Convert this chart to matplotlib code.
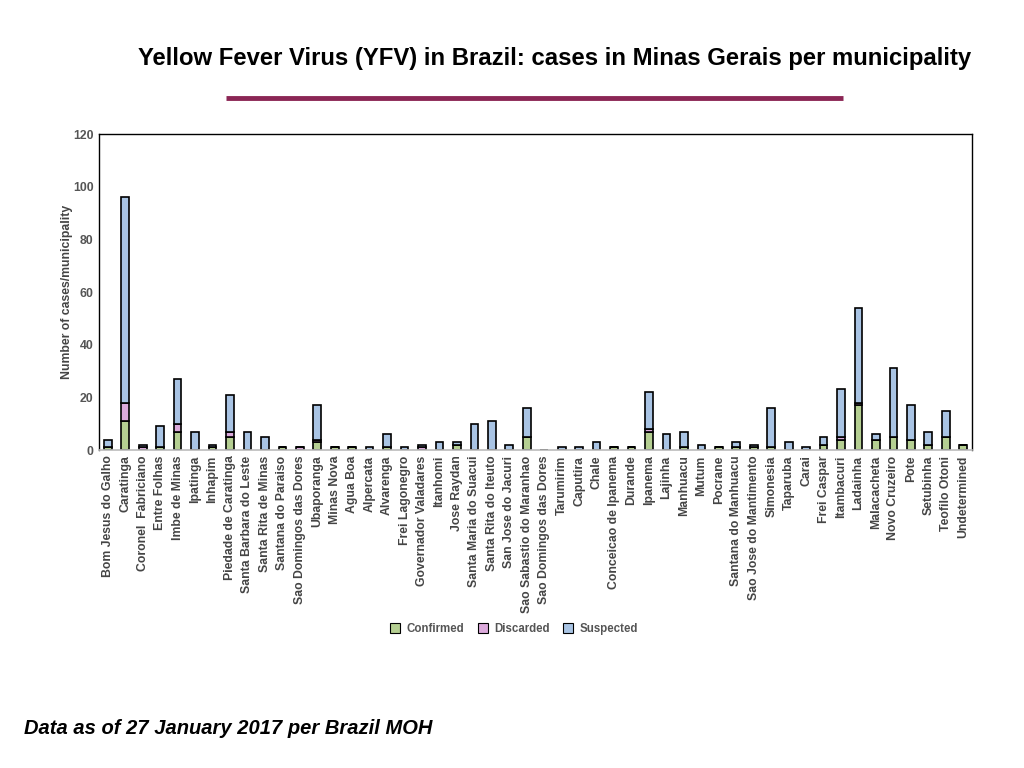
import numpy as np
import matplotlib
matplotlib.use('Agg')
import matplotlib.pyplot as plt
from matplotlib.lines import Line2D

plt.rcParams['font.family'] = ['Liberation Sans', 'DejaVu Sans']

municipalities = [
    'Bom Jesus do Galho', 'Caratinga', 'Coronel  Fabriciano', 'Entre Folhas', 'Imbe de Minas',
    'Ipatinga', 'Inhapim', 'Piedade de Caratinga', 'Santa Barbara do Leste', 'Santa Rita de Minas',
    'Santana do Paraiso', 'Sao Domingos das Dores', 'Ubaporanga', 'Minas Nova', 'Agua Boa',
    'Alpercata', 'Alvarenga', 'Frei Lagonegro', 'Governador Valadares', 'Itanhomi',
    'Jose Raydan', 'Santa Maria do Suacui', 'Santa Rita do Iteuto', 'San Jose do Jacuri',
    'Sao Sabastio do Maranhao', 'Sao Domingos das Dores', 'Tarumirim', 'Caputira', 'Chale',
    'Conceicao de Ipanema', 'Durande', 'Ipanema', 'Lajinha', 'Manhuacu', 'Mutum', 'Pocrane',
    'Santana do Manhuacu', 'Sao Jose do Mantimento', 'Simonesia', 'Taparuba', 'Carai',
    'Frei Caspar', 'Itambacuri', 'Ladainha', 'Malacacheta', 'Novo Cruzeiro', 'Pote',
    'Setubinha', 'Teofilo Otoni', 'Undetermined',
]

confirmed = [1, 11, 0, 1, 7, 0, 1, 5, 0, 0,
             1, 0, 3, 1, 1, 0, 1, 0, 0, 0,
             2, 0, 0, 0, 5, 0, 0, 0, 0, 1,
             1, 7, 0, 1, 0, 1, 1, 1, 1, 0,
             0, 2, 4, 17, 4, 5, 4, 2, 5, 2]
discarded = [0, 7, 1, 0, 3, 0, 0, 2, 0, 0,
             0, 1, 1, 0, 0, 0, 0, 0, 1, 0,
             0, 0, 0, 0, 0, 0, 0, 0, 0, 0,
             0, 1, 0, 0, 0, 0, 0, 0, 0, 0,
             0, 0, 1, 1, 0, 0, 0, 0, 0, 0]
suspected = [3, 78, 1, 8, 17, 7, 1, 14, 7, 5,
             0, 0, 13, 0, 0, 1, 5, 1, 1, 3,
             1, 10, 11, 2, 11, 0, 1, 1, 3, 0,
             0, 14, 6, 6, 2, 0, 2, 1, 15, 3,
             1, 3, 18, 36, 2, 26, 13, 5, 10, 0]

c_conf = '#B5CF92'
c_disc = '#DCAADC'
c_susp = '#A9C4E4'

fig = plt.figure(figsize=(10.24, 7.68), dpi=100)
ax = fig.add_axes([0.0967, 0.414, 0.8525, 0.4115])

x = np.arange(len(municipalities))
conf = np.array(confirmed)
disc = np.array(discarded)
susp = np.array(suspected)
w = 0.44
kw = dict(width=w, edgecolor='black', linewidth=1.2)
ax.bar(x, conf, color=c_conf, **kw)
ax.bar(x, disc, bottom=conf, color=c_disc, **kw)
ax.bar(x, susp, bottom=conf + disc, color=c_susp, **kw)

ax.set_xlim(-0.5, len(municipalities) - 0.5)
ax.set_ylim(0, 120)
ax.set_yticks(range(0, 121, 20))
ax.set_xticks(x)
ax.set_xticklabels(municipalities, rotation=90, fontsize=8.8, fontweight='bold', color='#444444')
for t in ax.get_yticklabels():
    t.set_fontsize(8.8)
    t.set_fontweight('bold')
    t.set_color('#555555')
ax.tick_params(axis='both', length=0, pad=4)
ax.set_ylabel('Number of cases/municipality', fontsize=8.8, fontweight='bold', color='#444444', labelpad=0)

for s in ['top', 'right', 'left']:
    ax.spines[s].set_color('black')
    ax.spines[s].set_linewidth(1.0)
ax.spines['bottom'].set_color('#BBBBBB')
ax.spines['bottom'].set_linewidth(1.2)

handles = [Line2D([], [], marker='s', linestyle='none', markersize=7, markerfacecolor=c,
                  markeredgecolor='black', markeredgewidth=0.8) for c in (c_conf, c_disc, c_susp)]
fig.legend(handles, ['Confirmed', 'Discarded', 'Suspected'], loc='center', bbox_to_anchor=(0.499, 0.181),
           ncol=3, frameon=False, handletextpad=0.0, columnspacing=0.6,
           prop={'size': 8.3, 'weight': 'bold'}, labelcolor='#555555')

fig.text(0.948, 0.924, 'Yellow Fever Virus (YFV) in Brazil: cases in Minas Gerais per municipality',
         ha='right', va='center', fontsize=17.2, fontweight='bold')
fig.add_artist(Line2D([0.2207, 0.8232], [0.872, 0.872], color='#8B2655', linewidth=3.5,
                      solid_capstyle='butt'))
fig.text(0.0234, 0.052, 'Data as of 27 January 2017 per Brazil MOH', ha='left', va='center',
         fontsize=14.5, fontweight='bold', fontstyle='italic')

fig.savefig('out.png', dpi=100)
